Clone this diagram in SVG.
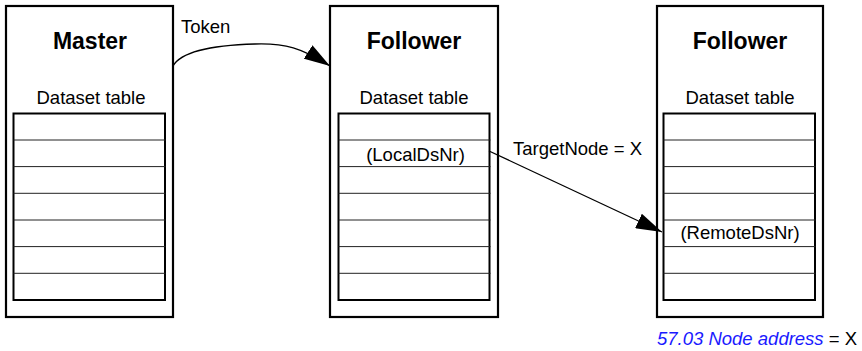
<svg xmlns="http://www.w3.org/2000/svg" width="862" height="351" viewBox="0 0 862 351">
<style>
.box{fill:#fff;stroke:#000;stroke-width:2.2}
.tbl{fill:none;stroke:#000;stroke-width:2}
.row{stroke:#222;stroke-width:1}
.title{font-family:"Liberation Sans",Arial,sans-serif;font-weight:bold;font-size:23px;text-anchor:middle;fill:#000}
.lbl{font-family:"Liberation Sans",Arial,sans-serif;font-size:18.5px;fill:#000}
.mid{text-anchor:middle}
.conn{fill:none;stroke:#000;stroke-width:1.3}
</style>
<defs>
<marker id="arr" viewBox="0 0 26 16" refX="26" refY="8" markerWidth="26" markerHeight="16" markerUnits="userSpaceOnUse" orient="auto">
<path d="M0,0 L26,8 L0,16 z" fill="#000"/>
</marker>
<g id="rows">
<line class="row" x1="0" y1="26.7" x2="152" y2="26.7"/>
<line class="row" x1="0" y1="53.3" x2="152" y2="53.3"/>
<line class="row" x1="0" y1="80" x2="152" y2="80"/>
<line class="row" x1="0" y1="106.7" x2="152" y2="106.7"/>
<line class="row" x1="0" y1="133.3" x2="152" y2="133.3"/>
<line class="row" x1="0" y1="160" x2="152" y2="160"/>
</g>
</defs>
<g id="master">
<rect class="box" x="6" y="6" width="167" height="311"/>
<text class="title" x="90" y="49">Master</text>
<text class="lbl mid" x="91" y="104">Dataset table</text>
<rect class="tbl" x="13.5" y="113.5" width="151.5" height="186.5"/>
<use href="#rows" transform="translate(13.5,113.3)"/>
</g>
<g id="follower1">
<rect class="box" x="330" y="6" width="168" height="311"/>
<text class="title" x="414" y="49">Follower</text>
<text class="lbl mid" x="414" y="104">Dataset table</text>
<rect class="tbl" x="338.5" y="113.5" width="151" height="186.5"/>
<use href="#rows" transform="translate(338.5,113.3)"/>
<text class="lbl mid" x="415.5" y="161">(LocalDsNr)</text>
</g>
<g id="follower2">
<rect class="box" x="657" y="6" width="166" height="311"/>
<text class="title" x="740" y="49">Follower</text>
<text class="lbl mid" x="740" y="104">Dataset table</text>
<rect class="tbl" x="663.5" y="113.5" width="151.5" height="186.5"/>
<use href="#rows" transform="translate(663.5,113.3)"/>
<text class="lbl mid" x="740" y="239">(RemoteDsNr)</text>
</g>
<g id="connectors">
<path class="conn" d="M173,66 C182,50 220,45 255,44 C285,43 302,48 330,66" marker-end="url(#arr)"/>
<text class="lbl" x="181" y="33">Token</text>
<line class="conn" x1="489" y1="151" x2="662" y2="232" marker-end="url(#arr)"/>
<text class="lbl" x="513" y="155">TargetNode = X</text>
</g>
<text class="lbl" x="657" y="345"><tspan fill="#1a1aff" font-style="italic">57.03 Node address</tspan> = X</text>
</svg>
